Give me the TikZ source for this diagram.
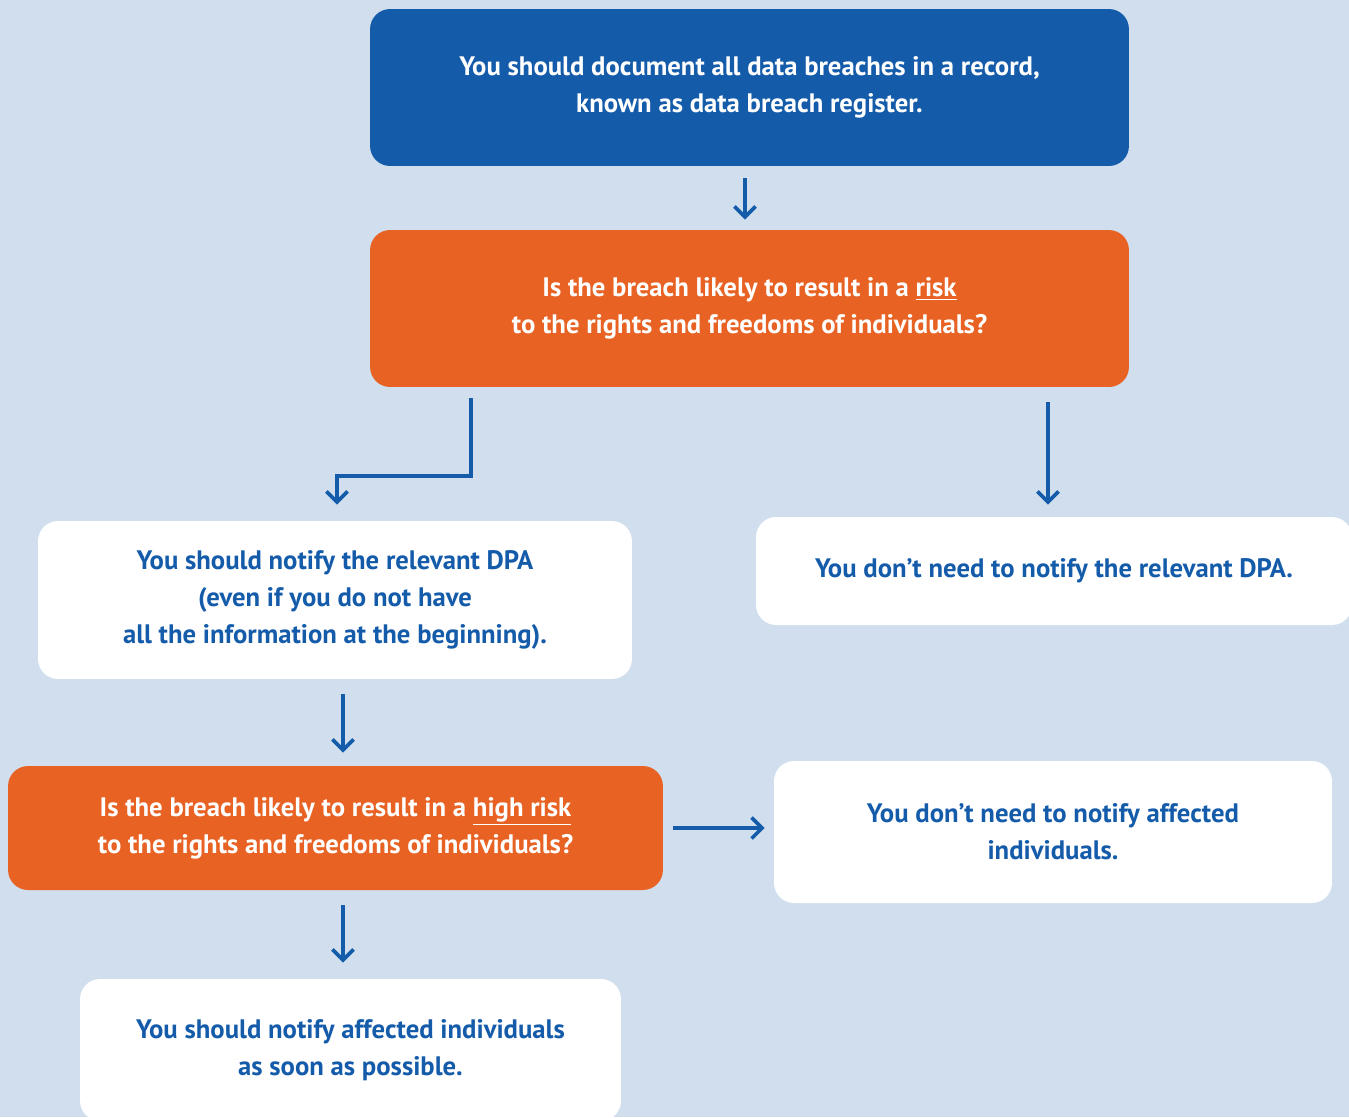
\documentclass[tikz,border=0pt]{standalone}
\usepackage{fontspec}
\setmainfont{PT Sans}
\usepackage{tikz}
\usetikzlibrary{arrows.meta}

\definecolor{bgblue}{RGB}{208,222,238}
\definecolor{darkblue}{RGB}{20,91,170}
\definecolor{dpaorange}{RGB}{232,98,35}

\begin{document}
\begin{tikzpicture}[x=0.02cm, y=-0.02cm]
    \tikzstyle{block} = [rectangle, rounded corners=0.4cm, text centered, align=center, inner sep=0pt, font=\bfseries\fontsize{15.2}{21}\selectfont]
    \tikzstyle{bluebox} = [block, fill=darkblue, text=white]
    \tikzstyle{orangebox} = [block, fill=dpaorange, text=white]
    \tikzstyle{whitebox} = [block, fill=white, text=darkblue]
    \tikzstyle{arrow} = [line width=2.1pt, darkblue, -{Straight Barb[length=6pt, width=12pt, line width=2.1pt]}]

    \useasboundingbox (0,0) rectangle (1349,1117);
    \clip (0,0) rectangle (1349,1117);
    \fill [bgblue] (0,0) rectangle (1349,1117);

    \node (register) [bluebox, minimum width=15.18cm, minimum height=3.14cm] at (749.5,87.5) {You should document all data breaches in a record,\\known as data breach register.};
    \node (risk) [orangebox, minimum width=15.18cm, minimum height=3.14cm] at (749.5,308.5) {Is the breach likely to result in a \underline{risk}\\to the rights and freedoms of individuals?};
    \node (notifydpa) [whitebox, minimum width=11.88cm, minimum height=3.16cm] at (335,600) {You should notify the relevant DPA\\(even if you do not have\\all the information at the beginning).};
    \node (nodpa) [whitebox, minimum width=11.92cm, minimum height=2.16cm] at (1054,571) {You don’t need to notify the relevant DPA.};
    \node (highrisk) [orangebox, minimum width=13.1cm, minimum height=2.48cm] at (335.5,828) {Is the breach likely to result in a \underline{high risk}\\to the rights and freedoms of individuals?};
    \node (noindiv) [whitebox, minimum width=11.16cm, minimum height=2.84cm] at (1053,832) {You don’t need to notify affected\\individuals.};
    \node (indiv) [whitebox, minimum width=10.82cm, minimum height=2.84cm] at (350.5,1050) {You should notify affected individuals\\as soon as possible.};

    \coordinate (bend) at (337,476);

    \draw [arrow, shorten <=0.24cm, shorten >=0.2cm] (register.south -| 745,0) -- (risk.north -| 745,0);
    \draw [arrow, shorten <=0.22cm, shorten >=0.32cm] (risk.south -| 471,0) |- (bend) -- (notifydpa.north -| bend);
    \draw [arrow, shorten <=0.3cm, shorten >=0.24cm] (risk.south -| 1048,0) -- (nodpa.north -| 1048,0);
    \draw [arrow, shorten <=0.3cm, shorten >=0.26cm] (notifydpa.south -| 343,0) -- (highrisk.north -| 343,0);
    \draw [arrow, shorten <=0.2cm, shorten >=0.18cm] (highrisk.east |- 0,828) -- (noindiv.west |- 0,828);
    \draw [arrow, shorten <=0.3cm, shorten >=0.32cm] (highrisk.south -| 343,0) -- (indiv.north -| 343,0);
\end{tikzpicture}
\end{document}
